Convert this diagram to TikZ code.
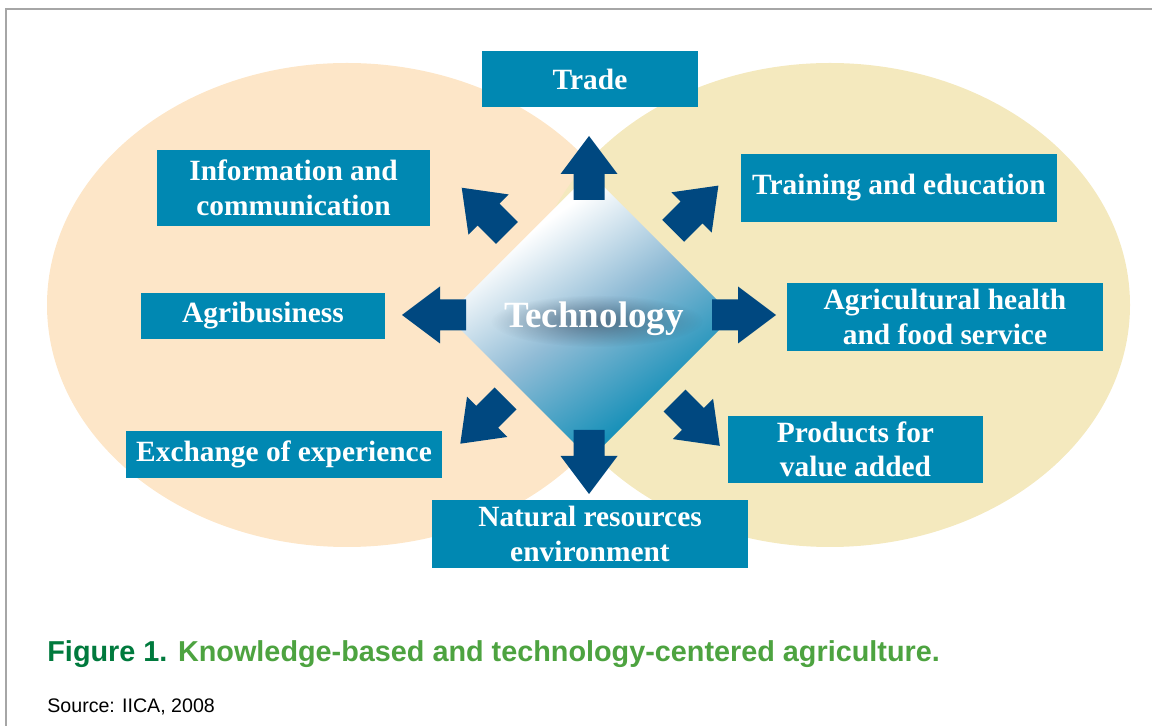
\documentclass[tikz,border=0pt]{standalone}
\usepackage{fontspec}
\setmainfont{Liberation Serif}
\setsansfont{Liberation Sans}
\usetikzlibrary{fadings}

\definecolor{peach}{RGB}{253,230,200}
\definecolor{straw}{RGB}{244,233,190}
\definecolor{boxblue}{RGB}{0,136,178}
\definecolor{arrowblue}{RGB}{0,72,128}
\definecolor{figgreen}{RGB}{0,122,61}
\definecolor{capgreen}{RGB}{77,163,64}
\definecolor{deepteal}{RGB}{25,145,185}
\definecolor{midblue}{RGB}{145,188,214}
\definecolor{techshade}{RGB}{40,55,75}

\pgfdeclareverticalshading{techfade}{100bp}{color(0bp)=(deepteal); color(31bp)=(deepteal);
	color(50bp)=(midblue); color(68bp)=(white); color(100bp)=(white)}
\tikzfading[name=softglow, inner color=transparent!45, outer color=transparent!100]

\tikzset{
	topic/.style={fill=boxblue, text=white, inner sep=0pt, align=center,
		font=\bfseries\fontsize{14.7}{17.3}\selectfont},
	bigarrow/.style={fill=arrowblue},
}

\begin{document}
\begin{tikzpicture}[x = 0.5pt, y = -0.5pt]
	\useasboundingbox (0,0) rectangle (1152,726);
	\draw[line width=1pt, gray!70] (6,726) -- (6,9) -- (1152,9);
	
	% the two fields
	\fill[peach] (347,305) ellipse (300 and 242);
	\fill[straw] (830,305) ellipse (300 and 242);
	
	% centre
	\shade[shading=techfade, shading angle=35]
		(590,173) -- (733,316) -- (590,459) -- (447,316) -- cycle;
	
	\foreach \a/\r in {0/123, 45/119, 90/115, 135/116, 180/123, 225/118, 270/115, 315/121}
		\fill[bigarrow, shift={(589,315)}, rotate=\a]
			(\r,-15.5) -- (\r+26,-15.5) -- (\r+26,-28.5) -- (\r+64,0)
			-- (\r+26,28.5) -- (\r+26,15.5) -- (\r,15.5) -- cycle;
	
	% soft shadow under the title
	\fill[techshade, path fading=softglow] (597,321) ellipse (106 and 26);
	\node[text=white, font=\bfseries\fontsize{18.5}{21}\selectfont] (tech) at (594,319) {Technology};
	
	\node[topic, minimum width=108pt, minimum height=28pt] (trade) at (590,79) {Trade};
	\node[topic, minimum width=136.5pt, minimum height=38pt] (info) at (293.5,188) {Information and\\communication};
	\node[topic, minimum width=122pt, minimum height=23pt] (agri) at (263,316) {Agribusiness};
	\node[topic, minimum width=158pt, minimum height=23.5pt] (exch) at (284,454.5) {Exchange of experience};
	\node[topic, minimum width=158pt, minimum height=34pt] (natural) at (590,534) {Natural resources\\environment};
	\node[topic, minimum width=127.5pt, minimum height=33.5pt] (products) at (855.5,449.5) {Products for\\value added};
	\node[topic, minimum width=158pt, minimum height=34pt] (health) at (945,317) {Agricultural health\\and food service};
	\node[topic, minimum width=158pt, minimum height=34pt] (training) at (899,188) {Training and education};
	
	\node[anchor=base west, inner sep=0pt, font=\sffamily\bfseries\fontsize{14.4}{17}\selectfont] (caption) at (47,662)
		{\textcolor{figgreen}{Figure 1.} \textcolor{capgreen}{Knowledge-based and technology-centered agriculture.}};
	\node[anchor=base west, inner sep=0pt, font=\sffamily\fontsize{9.8}{12}\selectfont] (source) at (47,713) {Source: IICA, 2008};
\end{tikzpicture}
\end{document}
